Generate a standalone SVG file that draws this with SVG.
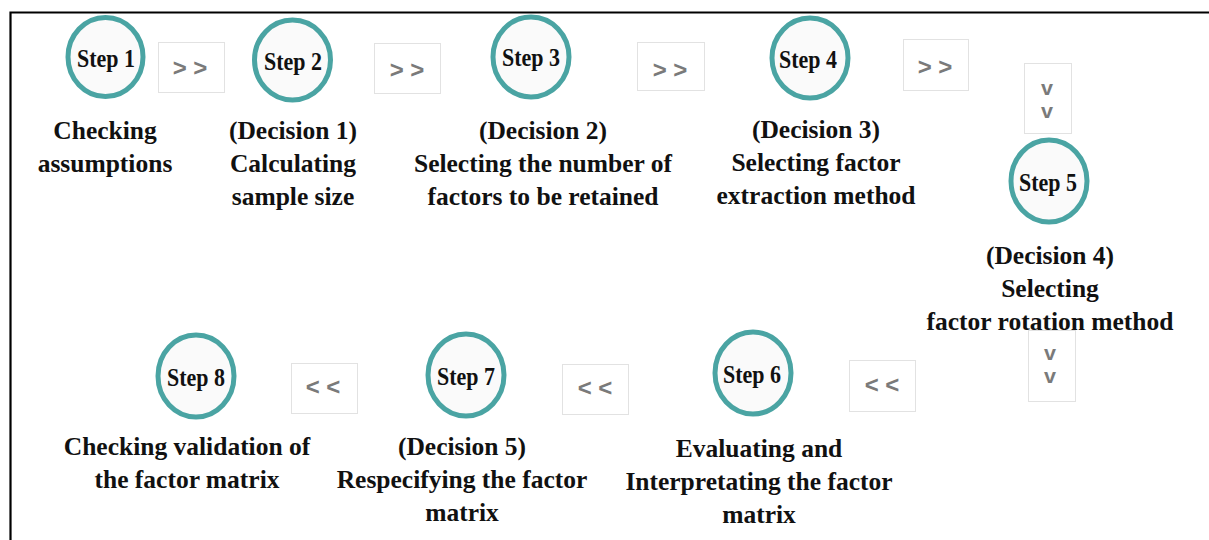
<svg xmlns="http://www.w3.org/2000/svg" width="1209" height="540" viewBox="0 0 1209 540">
  <style>
    .ring { fill: #fafafa; stroke: #4aa4a3; stroke-width: 5; }
    .step { font-family: "Liberation Serif", "Times New Roman", serif; font-weight: bold; font-size: 25px; fill: #111; text-anchor: middle; }
    .lbl { font-family: "Liberation Serif", "Times New Roman", serif; font-weight: bold; font-size: 25.5px; fill: #111; text-anchor: middle; }
    .box { fill: #ffffff; stroke: #e2e2e2; stroke-width: 1; }
    .chev { font-family: "Liberation Sans", Arial, sans-serif; font-weight: bold; font-size: 24px; fill: #7a7a7a; text-anchor: middle; }
    .chevv { font-family: "Liberation Sans", Arial, sans-serif; font-weight: bold; font-size: 20px; fill: #7a7a7a; text-anchor: middle; }
  </style>

  <rect width="1209" height="540" fill="#ffffff"/>
  <!-- outer frame -->
  <path d="M10.5 541 V12.5 H1210" fill="none" stroke="#000" stroke-width="2.2"/>

  <g id="connectors">
    <rect class="box" x="158.5" y="42.5" width="66" height="50"/>
    <text class="chev" x="190" y="76">&gt; &gt;</text>
    <rect class="box" x="374.5" y="43.5" width="66" height="50"/>
    <text class="chev" x="407" y="78">&gt; &gt;</text>
    <rect class="box" x="637.5" y="42.5" width="67" height="48"/>
    <text class="chev" x="670" y="78">&gt; &gt;</text>
    <rect class="box" x="903.5" y="39.5" width="65" height="51"/>
    <text class="chev" x="935" y="75">&gt; &gt;</text>

    <rect class="box" x="1024.5" y="63.5" width="47" height="70"/>
    <text class="chevv" x="1047" y="95" textLength="12" lengthAdjust="spacingAndGlyphs">v</text>
    <text class="chevv" x="1047" y="118" textLength="12" lengthAdjust="spacingAndGlyphs">v</text>

    <rect class="box" x="1028.5" y="330.5" width="47" height="71"/>
    <text class="chevv" x="1050" y="360" textLength="12" lengthAdjust="spacingAndGlyphs">v</text>
    <text class="chevv" x="1050" y="383" textLength="12" lengthAdjust="spacingAndGlyphs">v</text>

    <rect class="box" x="849.5" y="360.5" width="66" height="51"/>
    <text class="chev" x="882" y="393">&lt; &lt;</text>
    <rect class="box" x="562.5" y="364.5" width="66" height="50"/>
    <text class="chev" x="595" y="396">&lt; &lt;</text>
    <rect class="box" x="291.5" y="363.5" width="66" height="50"/>
    <text class="chev" x="323" y="395">&lt; &lt;</text>
  </g>

  <g id="step1">
    <ellipse class="ring" cx="105.5" cy="57" rx="37.5" ry="39.5"/>
    <text class="step" x="106" y="67" textLength="58" lengthAdjust="spacingAndGlyphs">Step 1</text>
    <text class="lbl" x="105" y="139">Checking</text>
    <text class="lbl" x="105" y="172">assumptions</text>
  </g>

  <g id="step2">
    <ellipse class="ring" cx="292.5" cy="60" rx="38" ry="40"/>
    <text class="step" x="293" y="70" textLength="58" lengthAdjust="spacingAndGlyphs">Step 2</text>
    <text class="lbl" x="293" y="139">(Decision 1)</text>
    <text class="lbl" x="293" y="172">Calculating</text>
    <text class="lbl" x="293" y="205">sample size</text>
  </g>

  <g id="step3">
    <ellipse class="ring" cx="531" cy="57" rx="38" ry="40"/>
    <text class="step" x="531" y="66" textLength="58" lengthAdjust="spacingAndGlyphs">Step 3</text>
    <text class="lbl" x="543" y="139">(Decision 2)</text>
    <text class="lbl" x="543" y="172">Selecting the number of</text>
    <text class="lbl" x="543" y="205">factors to be retained</text>
  </g>

  <g id="step4">
    <ellipse class="ring" cx="810" cy="58" rx="38" ry="40"/>
    <text class="step" x="808" y="68" textLength="58" lengthAdjust="spacingAndGlyphs">Step 4</text>
    <text class="lbl" x="816" y="138">(Decision 3)</text>
    <text class="lbl" x="816" y="171">Selecting factor</text>
    <text class="lbl" x="816" y="204">extraction method</text>
  </g>

  <g id="step5">
    <ellipse class="ring" cx="1049" cy="181" rx="38" ry="41"/>
    <text class="step" x="1048" y="191" textLength="58" lengthAdjust="spacingAndGlyphs">Step 5</text>
    <text class="lbl" x="1050" y="264">(Decision 4)</text>
    <text class="lbl" x="1050" y="297">Selecting</text>
    <text class="lbl" x="1050" y="330">factor rotation method</text>
  </g>

  <g id="step6">
    <ellipse class="ring" cx="753" cy="373" rx="38" ry="41"/>
    <text class="step" x="752" y="383" textLength="58" lengthAdjust="spacingAndGlyphs">Step 6</text>
    <text class="lbl" x="759" y="457">Evaluating and</text>
    <text class="lbl" x="759" y="490">Interpretating the factor</text>
    <text class="lbl" x="759" y="523">matrix</text>
  </g>

  <g id="step7">
    <ellipse class="ring" cx="466" cy="375" rx="38" ry="41"/>
    <text class="step" x="466" y="385" textLength="58" lengthAdjust="spacingAndGlyphs">Step 7</text>
    <text class="lbl" x="462" y="455">(Decision 5)</text>
    <text class="lbl" x="462" y="488">Respecifying the factor</text>
    <text class="lbl" x="462" y="521">matrix</text>
  </g>

  <g id="step8">
    <ellipse class="ring" cx="196" cy="376" rx="38" ry="41"/>
    <text class="step" x="196" y="386" textLength="58" lengthAdjust="spacingAndGlyphs">Step 8</text>
    <text class="lbl" x="187" y="455">Checking validation of</text>
    <text class="lbl" x="187" y="488">the factor matrix</text>
  </g>
</svg>
